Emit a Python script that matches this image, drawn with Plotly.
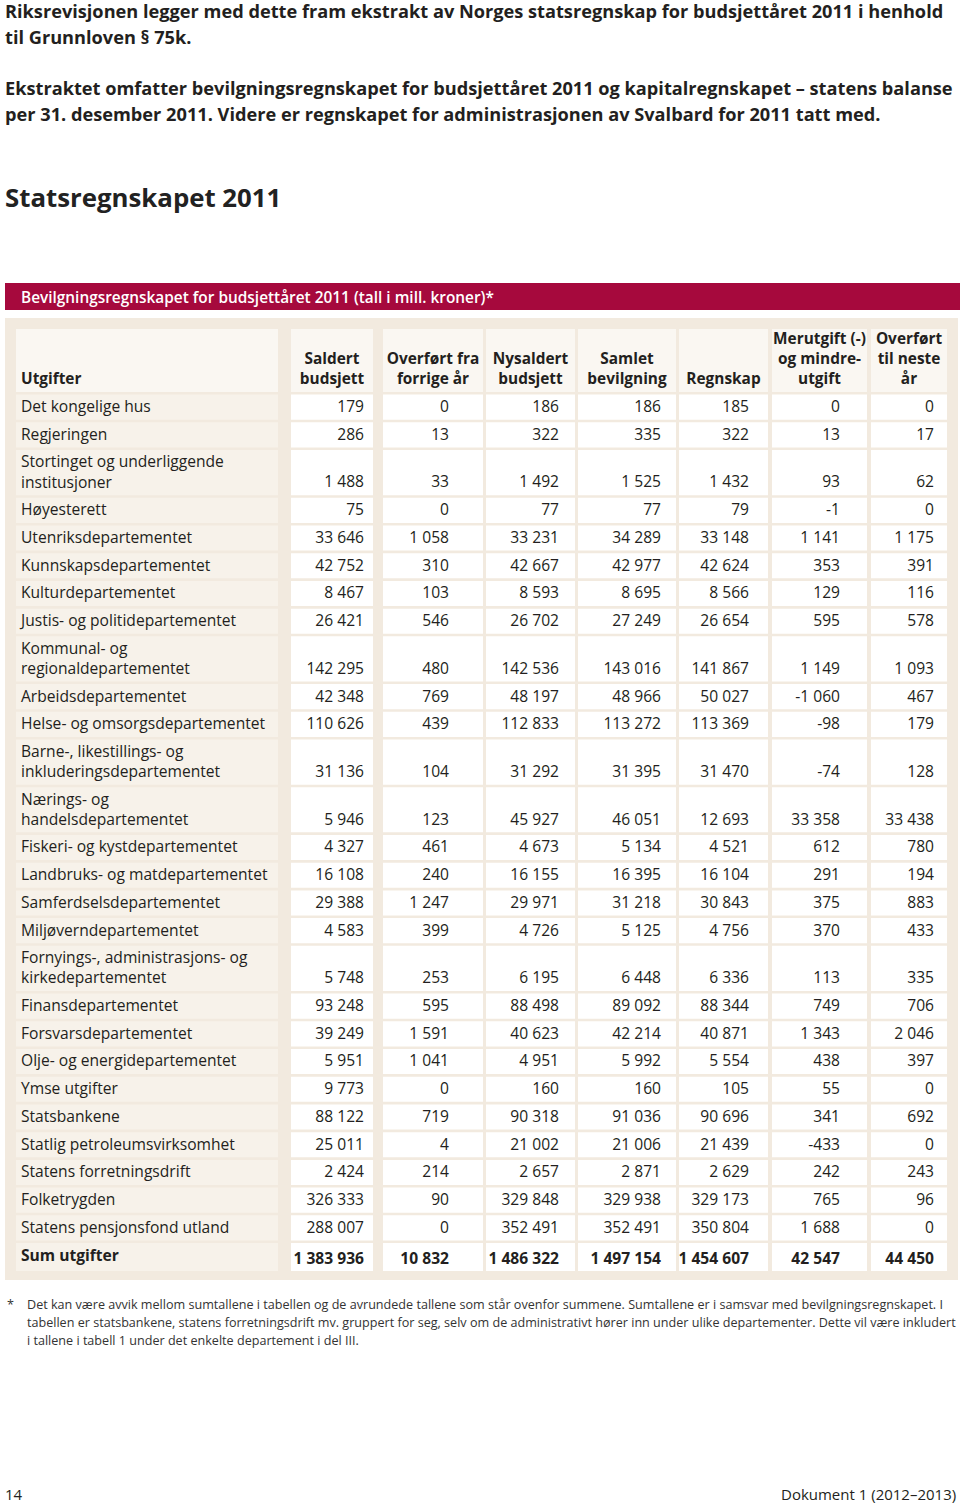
import plotly.graph_objects as go

# ---------------- data ----------------
rader = [
    "Det kongelige hus", "Regjeringen", "Stortinget og underliggende<br>institusjoner",
    "Høyesterett", "Utenriksdepartementet", "Kunnskapsdepartementet",
    "Kulturdepartementet", "Justis- og politidepartementet",
    "Kommunal- og<br>regionaldepartementet", "Arbeidsdepartementet",
    "Helse- og omsorgsdepartementet", "Barne-, likestillings- og<br>inkluderingsdepartementet",
    "Nærings- og<br>handelsdepartementet", "Fiskeri- og kystdepartementet",
    "Landbruks- og matdepartementet", "Samferdselsdepartementet",
    "Miljøverndepartementet", "Fornyings-, administrasjons- og<br>kirkedepartementet",
    "Finansdepartementet", "Forsvarsdepartementet", "Olje- og energidepartementet",
    "Ymse utgifter", "Statsbankene", "Statlig petroleumsvirksomhet",
    "Statens forretningsdrift", "Folketrygden", "Statens pensjonsfond utland",
    "Sum utgifter",
]
saldert_budsjett = [179, 286, 1488, 75, 33646, 42752, 8467, 26421, 142295, 42348, 110626,
                    31136, 5946, 4327, 16108, 29388, 4583, 5748, 93248, 39249, 5951, 9773,
                    88122, 25011, 2424, 326333, 288007, 1383936]
overfort_fra_forrige_ar = [0, 13, 33, 0, 1058, 310, 103, 546, 480, 769, 439, 104, 123, 461,
                           240, 1247, 399, 253, 595, 1591, 1041, 0, 719, 4, 214, 90, 0, 10832]
nysaldert_budsjett = [186, 322, 1492, 77, 33231, 42667, 8593, 26702, 142536, 48197, 112833,
                      31292, 45927, 4673, 16155, 29971, 4726, 6195, 88498, 40623, 4951, 160,
                      90318, 21002, 2657, 329848, 352491, 1486322]
samlet_bevilgning = [186, 335, 1525, 77, 34289, 42977, 8695, 27249, 143016, 48966, 113272,
                     31395, 46051, 5134, 16395, 31218, 5125, 6448, 89092, 42214, 5992, 160,
                     91036, 21006, 2871, 329938, 352491, 1497154]
regnskap = [185, 322, 1432, 79, 33148, 42624, 8566, 26654, 141867, 50027, 113369, 31470,
            12693, 4521, 16104, 30843, 4756, 6336, 88344, 40871, 5554, 105, 90696, 21439,
            2629, 329173, 350804, 1454607]
merutgift_mindreutgift = [0, 13, 93, -1, 1141, 353, 129, 595, 1149, -1060, -98, -74, 33358,
                          612, 291, 375, 370, 113, 749, 1343, 438, 55, 341, -433, 242, 765,
                          1688, 42547]
overfort_til_neste_ar = [0, 17, 62, 0, 1175, 391, 116, 578, 1093, 467, 179, 128, 33438, 780,
                         194, 883, 433, 335, 706, 2046, 397, 0, 692, 0, 243, 96, 0, 44450]

kolonner = ["Utgifter", "Saldert<br>budsjett", "Overført fra<br>forrige år",
            "Nysaldert<br>budsjett", "Samlet<br>bevilgning", "Regnskap",
            "Merutgift (-)<br>og mindre-<br>utgift", "Overført<br>til neste<br>år"]

verdier = [saldert_budsjett, overfort_fra_forrige_ar, nysaldert_budsjett, samlet_bevilgning,
           regnskap, merutgift_mindreutgift, overfort_til_neste_ar]

# ---------------- style / geometry ----------------
W, H = 960, 1503
FONT = "Open Sans"
INK = "#231f20"
RED = "#a6093d"
FRAME = "#f2eadf"
LABEL_FILL = "#f7f2ea"
HEAD_FILL = "#faf7f2"
CELL_FILL = "#ffffff"
BODY_SIZE = 15.6
HEAD_SIZE = 15.4

lab_left, lab_right, lab_text_x = 16, 278, 21
col_left = [291, 383, 486, 578, 679, 772, 871]
col_right = [373, 483, 575, 676, 768, 867, 947]
col_text_right = [364, 449, 559, 661, 749, 840, 934]

head_top, head_bottom = 329, 392
gap = 2.6
pitch_single, pitch_double, pitch_sum = 27.72, 47.72, 30.5
text_dy = 1.0


def fmt(v):
    s = f"{abs(v):,}".replace(",", " ")
    return ("-" if v < 0 else "") + s


# row geometry
n = len(rader)
centers, heights, val_y, lab_y = [], [], [], []
y = head_bottom
for i, lab in enumerate(rader):
    if i == n - 1:
        p = pitch_sum
    elif "<br>" in lab:
        p = pitch_double
    else:
        p = pitch_single
    top, bot = y + gap, y + p
    c = (top + bot) / 2
    centers.append(c)
    heights.append(bot - top)
    if i == n - 1:
        lab_y.append(c - 1.0 + text_dy)
        val_y.append(c + 2.0 + text_dy)
    elif "<br>" in lab:
        lab_y.append(c + text_dy)
        val_y.append(c + 10 + text_dy)
    else:
        lab_y.append(c + text_dy)
        val_y.append(c + text_dy)
    y += p

fig = go.Figure()

# header cells
head_lefts = [lab_left] + col_left
head_rights = [lab_right] + col_right
fig.add_trace(go.Bar(
    orientation="h", y=[(head_top + head_bottom) / 2] * 8,
    x=[r - l for l, r in zip(head_lefts, head_rights)], base=head_lefts,
    width=[head_bottom - head_top] * 8, marker=dict(color=HEAD_FILL, line=dict(width=0)),
    hoverinfo="skip", showlegend=False))

# label column cells
fig.add_trace(go.Bar(
    orientation="h", y=centers, x=[lab_right - lab_left] * n, base=[lab_left] * n,
    width=heights, marker=dict(color=LABEL_FILL, line=dict(width=0)),
    hoverinfo="skip", showlegend=False))

# value cells
for j in range(7):
    fig.add_trace(go.Bar(
        orientation="h", y=centers, x=[col_right[j] - col_left[j]] * n,
        base=[col_left[j]] * n, width=heights,
        marker=dict(color=CELL_FILL, line=dict(width=0)),
        hoverinfo="skip", showlegend=False))

# header texts
fig.add_trace(go.Scatter(
    x=[lab_text_x], y=[388], mode="text", text=[kolonner[0]], textposition="top right",
    textfont=dict(family=FONT, size=HEAD_SIZE, color=INK, weight="bold"),
    hoverinfo="skip", showlegend=False))
fig.add_trace(go.Scatter(
    x=[(l + r) / 2 for l, r in zip(col_left, col_right)], y=[388] * 7, mode="text",
    text=kolonner[1:], textposition="top center",
    textfont=dict(family=FONT, size=HEAD_SIZE, color=INK, weight="bold"),
    hoverinfo="skip", showlegend=False))

# row labels
lab_txt = [("<b>%s</b>" % t) if i == n - 1 else t for i, t in enumerate(rader)]
fig.add_trace(go.Scatter(
    x=[lab_text_x] * n, y=lab_y, mode="text", text=lab_txt, textposition="middle right",
    textfont=dict(family=FONT, size=BODY_SIZE, color=INK),
    hoverinfo="skip", showlegend=False))

# values
for j, col in enumerate(verdier):
    txt = [("<b>%s</b>" % fmt(v)) if i == n - 1 else fmt(v) for i, v in enumerate(col)]
    fig.add_trace(go.Scatter(
        x=[col_text_right[j]] * n, y=val_y, mode="text", text=txt,
        textposition="middle left",
        textfont=dict(family=FONT, size=BODY_SIZE, color=INK),
        hoverinfo="skip", showlegend=False))

shapes = [
    dict(type="rect", xref="x", yref="y", x0=5, x1=958, y0=318, y1=1280,
         fillcolor=FRAME, line=dict(width=0), layer="below"),
    dict(type="rect", xref="x", yref="y", x0=5, x1=960, y0=283, y1=310,
         fillcolor=RED, line=dict(width=0), layer="below"),
]


def ann(x, y, text, size, color=INK, bold=False, xanchor="left", weight=None):
    return dict(x=x, y=y, xref="x", yref="y", text=text, showarrow=False,
                xanchor=xanchor, yanchor="middle", align="left",
                font=dict(family=FONT, size=size, color=color,
                          weight=weight if weight else ("bold" if bold else "normal")))


FOOT = "#333333"
annotations = [
    ann(3, 11, "Riksrevisjonen legger med dette fram ekstrakt av Norges statsregnskap for budsjettåret 2011 i henhold", 18.2, bold=True),
    ann(3, 37, "til Grunnloven § 75k.", 18.2, bold=True),
    ann(3, 88, "Ekstraktet omfatter bevilgningsregnskapet for budsjettåret 2011 og kapitalregnskapet – statens balanse", 18.2, bold=True),
    ann(3, 114, "per 31. desember 2011. Videre er regnskapet for administrasjonen av Svalbard for 2011 tatt med.", 18.2, bold=True),
    ann(3, 197, "Statsregnskapet 2011", 25.8, bold=True, color="#222222"),
    ann(19, 297, "Bevilgningsregnskapet for budsjettåret 2011 (tall i mill. kroner)*", 15.4, color="white", weight=600),
    ann(5, 1304, "*", 12.6, color=FOOT),
    ann(25, 1304, "Det kan være avvik mellom sumtallene i tabellen og de avrundede tallene som står ovenfor summene. Sumtallene er i samsvar med bevilgningsregnskapet. I", 12.6, color=FOOT),
    ann(25, 1322, "tabellen er statsbankene, statens forretningsdrift mv. gruppert for seg, selv om de administrativt hører inn under ulike departementer. Dette vil være inkludert", 12.6, color=FOOT),
    ann(25, 1340, "i tallene i tabell 1 under det enkelte departement i del III.", 12.6, color=FOOT),
    ann(3, 1494, "14", 15),
    ann(958, 1494, "Dokument 1 (2012–2013)", 15, xanchor="right"),
]

fig.update_layout(
    width=W, height=H, autosize=False,
    margin=dict(l=0, r=0, t=0, b=0, pad=0),
    paper_bgcolor="white", plot_bgcolor="white",
    barmode="overlay",
    xaxis=dict(range=[0, W], visible=False, fixedrange=True),
    yaxis=dict(range=[H, 0], visible=False, fixedrange=True),
    shapes=shapes, annotations=annotations,
)

fig.write_html("out.html", config={"displayModeBar": False},
               post_script="document.body.style.margin='0';document.body.style.overflow='hidden';")
